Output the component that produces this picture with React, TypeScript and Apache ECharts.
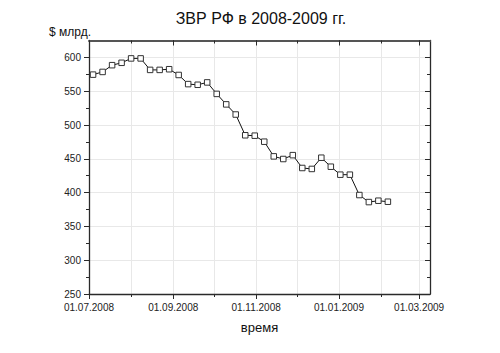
import React, { useEffect, useRef } from "react";
import * as echarts from "echarts";

const titleText = "ЗВР РФ в 2008-2009 гг.";
const yUnit = "$ млрд.";
const xName = "время";

const dates = [
  "2008-07-04", "2008-07-11", "2008-07-18", "2008-07-25", "2008-08-01", "2008-08-08",
  "2008-08-15", "2008-08-22", "2008-08-29", "2008-09-05", "2008-09-12", "2008-09-19",
  "2008-09-26", "2008-10-03", "2008-10-10", "2008-10-17", "2008-10-24", "2008-10-31",
  "2008-11-07", "2008-11-14", "2008-11-21", "2008-11-28", "2008-12-05", "2008-12-12",
  "2008-12-19", "2008-12-26", "2009-01-02", "2009-01-09", "2009-01-16", "2009-01-23",
  "2009-01-30", "2009-02-06",
];
const reserves = [
  574.5, 578.5, 588.5, 592, 598.5, 598.5,
  581.5, 581.5, 582.5, 574, 560.5, 559.5,
  563, 546, 530.5, 515.5, 484.8, 484.2,
  475.3, 453.6, 449.7, 455.4, 436.4, 435,
  451.6, 438.3, 426.5, 426.5, 396.4, 386,
  388, 386.5,
];

const xMinDate = "2008-07-01";
const xMaxDate = "2009-03-09";
const xMajorTicks = ["2008-07-01", "2008-09-01", "2008-11-01", "2009-01-01", "2009-03-01"];
const xAllMonthTicks = [
  "2008-07-01", "2008-08-01", "2008-09-01", "2008-10-01", "2008-11-01",
  "2008-12-01", "2009-01-01", "2009-02-01", "2009-03-01",
];
const yMin = 250;
const yMax = 625;
const yMajorTicks = [250, 300, 350, 400, 450, 500, 550, 600];
const yMinorTicks = [275, 325, 375, 425, 475, 525, 575];

const ts = (s: string) => {
  const [y, m, d] = s.split("-").map(Number);
  return Date.UTC(y, m - 1, d);
};
const pad = (n: number) => (n < 10 ? "0" + n : "" + n);
const fmt = (v: number) => {
  const d = new Date(v);
  return pad(d.getUTCDate()) + "." + pad(d.getUTCMonth() + 1) + "." + d.getUTCFullYear();
};

export default function App() {
  const ref = useRef<HTMLDivElement>(null);
  useEffect(() => {
    if (!ref.current) return;
    const chart = echarts.init(ref.current, null, { renderer: "svg" });
    const font = "'Liberation Sans', Arial, sans-serif";
    const axisColor = "#2a2a2a";
    const xMin = ts(xMinDate);
    const xMax = ts(xMaxDate);
    const xBase = {
      type: "value" as const,
      min: xMin,
      max: xMax,
      scale: true,
    };
    const yBase = { type: "value" as const, min: yMin, max: yMax };
    chart.setOption({
      animation: false,
      backgroundColor: "#ffffff",
      title: [
        {
          text: titleText,
          left: 261,
          top: 10,
          padding: 0,
          textAlign: "center",
          textStyle: { fontFamily: font, fontSize: 16, fontWeight: "normal", color: "#111" },
        },
        {
          text: yUnit,
          left: 49,
          top: 26,
          padding: 0,
          textStyle: { fontFamily: font, fontSize: 12, fontWeight: "normal", color: "#111" },
        },
      ],
      grid: { left: 89, right: 70, top: 40.5, bottom: 59, containLabel: false },
      xAxis: [
        {
          ...xBase,
          position: "bottom",
          axisLine: { show: true, lineStyle: { color: axisColor, width: 1.3 } },
          axisTick: { show: true, customValues: xAllMonthTicks.map(ts), length: 3, lineStyle: { color: axisColor } },
          axisLabel: { show: false },
          splitLine: { show: true, lineStyle: { color: "#e8e8e8", width: 1 } },
        },
        {
          ...xBase,
          position: "bottom",
          name: xName,
          nameLocation: "middle",
          nameGap: 27,
          nameTextStyle: { fontFamily: font, fontSize: 13, color: "#111" },
          axisLine: { show: false },
          axisTick: { show: true, customValues: xMajorTicks.map(ts), length: 5, lineStyle: { color: axisColor } },
          axisLabel: {
            show: true,
            customValues: xMajorTicks.map(ts),
            formatter: (v: number) => fmt(v),
            fontFamily: font,
            fontSize: 10,
            color: "#222",
            margin: 8,
            showMinLabel: true,
            showMaxLabel: true,
          },
          splitLine: { show: false },
        },
        {
          ...xBase,
          position: "top",
          axisLine: { show: true, lineStyle: { color: "#555", width: 2 } },
          axisTick: { show: true, inside: true, customValues: xMajorTicks.map(ts), length: 5, lineStyle: { color: axisColor } },
          axisLabel: { show: false },
          splitLine: { show: false },
        },
        {
          ...xBase,
          position: "top",
          axisLine: { show: false },
          axisTick: { show: true, inside: true, customValues: xAllMonthTicks.map(ts), length: 3, lineStyle: { color: axisColor } },
          axisLabel: { show: false },
          splitLine: { show: false },
        },
      ],
      yAxis: [
        {
          ...yBase,
          position: "left",
          axisLine: { show: true, lineStyle: { color: axisColor, width: 1.3 } },
          axisTick: { show: true, customValues: yMajorTicks, length: 5, lineStyle: { color: axisColor } },
          axisLabel: {
            show: true,
            customValues: yMajorTicks,
            fontFamily: font,
            fontSize: 10,
            color: "#222",
            margin: 8,
          },
          splitLine: { show: true, lineStyle: { color: "#e8e8e8", width: 1 } },
        },
        {
          ...yBase,
          position: "left",
          axisLine: { show: false },
          axisTick: { show: true, customValues: yMinorTicks, length: 3, lineStyle: { color: axisColor } },
          axisLabel: { show: false },
          splitLine: { show: false },
        },
        {
          ...yBase,
          position: "right",
          axisLine: { show: true, lineStyle: { color: axisColor, width: 1.3 } },
          axisTick: { show: true, inside: true, customValues: yMajorTicks, length: 5, lineStyle: { color: axisColor } },
          axisLabel: { show: false },
          splitLine: { show: false },
        },
        {
          ...yBase,
          position: "right",
          axisLine: { show: false },
          axisTick: { show: true, inside: true, customValues: yMinorTicks, length: 3, lineStyle: { color: axisColor } },
          axisLabel: { show: false },
          splitLine: { show: false },
        },
      ],
      series: [
        {
          type: "line",
          xAxisIndex: 0,
          yAxisIndex: 0,
          data: dates.map((d, i) => [ts(d), reserves[i]]),
          symbol: "rect",
          symbolSize: 5.5,
          lineStyle: { color: "#111", width: 1 },
          itemStyle: { color: "#ffffff", borderColor: "#333", borderWidth: 1 },
          z: 5,
        },
      ],
    });
    return () => chart.dispose();
  }, []);
  return (
    <div
      ref={ref}
      style={{ position: "fixed", left: 0, top: 0, width: 500, height: 353, background: "#fff" }}
    />
  );
}
